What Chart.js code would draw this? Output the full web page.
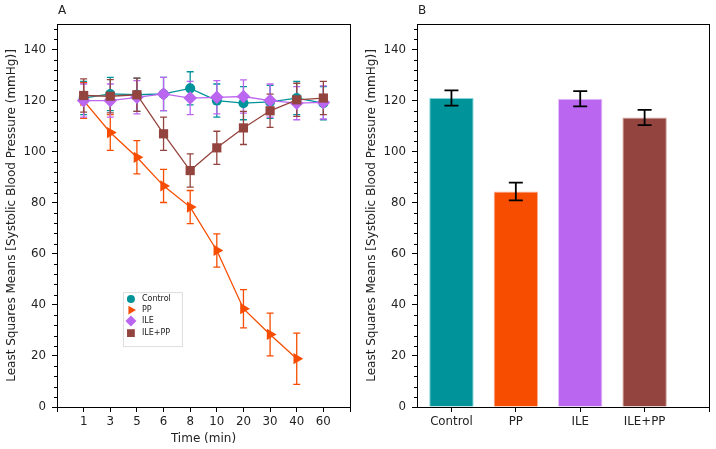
<!DOCTYPE html>
<html>
<head>
<meta charset="utf-8">
<script src="https://cdn.jsdelivr.net/npm/chart.js@4.4.0/dist/chart.umd.min.js"></script>
<style>
  html, body { margin: 0; padding: 0; background: #fff; }
  #wrap { position: relative; width: 716px; height: 449px; }
  #chartA { position: absolute; left: 0; top: 0; width: 360px; height: 449px; }
  #chartB { position: absolute; left: 360px; top: 0; width: 356px; height: 449px; }
</style>
</head>
<body>
<div id="wrap">
  <canvas id="chartA" width="360" height="449"></canvas>
  <canvas id="chartB" width="356" height="449"></canvas>
</div>
<script>
/* ====== data ====== */
const timeLabels = ['1', '3', '5', '6', '8', '10', '20', '30', '40', '60'];
const yTicks = [0, 20, 40, 60, 80, 100, 120, 140];

const controlMeans = [121, 122.6, 122.3, 122.6, 124.8, 120, 119, 119.5, 121, 119];
const controlErr   = [6.5, 6.5, 6.5, 6.5, 6.5, 6.5, 6.5, 6.5, 6.5, 6.5];
const ppMeans      = [120, 107.5, 97.8, 86.6, 78.3, 61.3, 38.5, 28.4, 18.9];
const ppErr        = [7, 7, 6.5, 6.5, 6.5, 6.5, 7.5, 8.4, 10];
const ileMeans     = [120, 120, 121.3, 122.6, 121, 121.3, 121.6, 120, 119, 119.3];
const ileErr       = [6.5, 6.5, 6.5, 6.5, 6.5, 6.5, 6.5, 6.5, 6.5, 6.5];
const ilePpMeans   = [122, 121.7, 122.3, 107, 92.6, 101.5, 109.3, 116, 120.3, 121];
const ilePpErr     = [6.5, 6.5, 6.5, 6.5, 6.5, 6.5, 6.5, 6.5, 6.5, 6.5];

const groups   = ['Control', 'PP', 'ILE', 'ILE+PP'];
const barMeans = [121.0, 84.4, 120.7, 113.4];
const barErr   = [3.0, 3.5, 3.0, 3.0];

const FONT = "'DejaVu Sans', sans-serif";
const yTitle = 'Least Squares Means [Systolic Blood Pressure (mmHg)]';
const COLORS = { control: '#00939a', pp: '#f64d00', ile: '#bb66f0', ilepp: '#94443e' };

/* ====== plugins ====== */
// error bars, computed through the y scale
const errorBars = {
  id: 'errorBars',
  draw(chart, opts) {
    const ctx = chart.ctx, ys = chart.scales.y;
    chart.data.datasets.forEach((ds, i) => {
      if (!ds.errors) return;
      const meta = chart.getDatasetMeta(i);
      ctx.save();
      ctx.lineWidth = opts.width;
      meta.data.forEach((el, j) => {
        const v = ds.data[j].y, e = ds.errors[j];
        const yTop = ys.getPixelForValue(v + e), yBot = ys.getPixelForValue(v - e);
        ctx.strokeStyle = ds.errorColor || ds.borderColor;
        ctx.beginPath();
        ctx.moveTo(el.x, yTop); ctx.lineTo(el.x, yBot);
        ctx.moveTo(el.x - opts.cap, yTop); ctx.lineTo(el.x + opts.cap, yTop);
        ctx.moveTo(el.x - opts.cap, yBot); ctx.lineTo(el.x + opts.cap, yBot);
        ctx.stroke();
      });
      ctx.restore();
    });
  },
  beforeDatasetsDraw(chart, args, opts) { if (!opts.above) this.draw(chart, opts); },
  afterDatasetsDraw(chart, args, opts) { if (opts.above) this.draw(chart, opts); }
};

// frame, minor y ticks, panel letter
const frame = {
  id: 'frame',
  afterDraw(chart, args, opts) {
    const { ctx, chartArea: a } = chart, ys = chart.scales.y;
    ctx.save();
    ctx.strokeStyle = '#000';
    ctx.lineWidth = 1;
    ctx.strokeRect(a.left + 0.5, a.top + 0.5, a.right - a.left, a.bottom - a.top);
    ctx.beginPath();
    for (let v = 4; v <= 150; v += 4) {
      if (v % 20 === 0) continue;
      const y = Math.round(ys.getPixelForValue(v)) + 0.5;
      ctx.moveTo(a.left - 3, y); ctx.lineTo(a.left, y);
    }
    ctx.stroke();
    ctx.fillStyle = '#222';
    ctx.font = '12px ' + FONT;
    ctx.textBaseline = 'middle';
    ctx.fillText(opts.letter, a.left + 1, 11);
    ctx.restore();
  }
};

// small legend inside panel A
const innerLegend = {
  id: 'innerLegend',
  afterDraw(chart, args, opts) {
    if (!opts.show) return;
    const { ctx, chartArea: a } = chart;
    const x0 = a.left + 0.225 * (a.right - a.left), y0 = a.top + 0.70 * (a.bottom - a.top);
    ctx.save();
    ctx.fillStyle = '#fff';
    ctx.strokeStyle = '#ddd';
    ctx.lineWidth = 1;
    ctx.fillRect(x0, y0, 59, 54);
    ctx.strokeRect(x0 + 0.5, y0 + 0.5, 59, 54);
    const rows = [7, 18, 29, 41];
    chart.data.datasets.forEach((ds, i) => {
      const y = y0 + rows[i];
      ctx.fillStyle = ds.backgroundColor;
      Chart.helpers.drawPoint(ctx, {
        pointStyle: ds.pointStyle, rotation: ds.pointRotation || 0,
        radius: ds.legendRadius, borderWidth: 0
      }, x0 + 8, y);
      ctx.fillStyle = '#222';
      ctx.font = '8px ' + FONT;
      ctx.textBaseline = 'middle';
      ctx.fillText(ds.label, x0 + 19, y);
    });
    ctx.restore();
  }
};

function yAxis() {
  return {
    min: 0, max: 150,
    afterBuildTicks: s => { s.ticks = yTicks.map(v => ({ value: v })); },
    afterFit: s => { s.width = 57; },
    ticks: { color: '#222', font: { family: FONT, size: 11.8 }, padding: 6 },
    grid: { drawOnChartArea: false, tickLength: 5, color: '#000' },
    border: { color: '#000', width: 1 },
    title: { display: true, text: yTitle, color: '#222', font: { family: FONT, size: 12 }, padding: { top: 5, bottom: 0 } }
  };
}

function lineSet(label, means, errs, color, style, radius, legendRadius, rot, order) {
  return {
    label: label,
    data: means.map((v, i) => ({ x: i + 1, y: v })),
    errors: errs,
    borderColor: color,
    backgroundColor: color,
    borderWidth: 1.3,
    pointStyle: style,
    pointRotation: rot,
    pointRadius: radius,
    pointBorderWidth: 0,
    legendRadius: legendRadius,
    tension: 0,
    order: order
  };
}

/* ====== panel A ====== */
new Chart(document.getElementById('chartA'), {
  type: 'line',
  data: {
    datasets: [
      lineSet('Control', controlMeans, controlErr, COLORS.control, 'circle', 5, 4, 0, 4),
      lineSet('PP', ppMeans, ppErr, COLORS.pp, 'triangle', 6.5, 5, 90, 3),
      lineSet('ILE', ileMeans, ileErr, COLORS.ile, 'rectRot', 6.8, 5.5, 0, 2),
      lineSet('ILE+PP', ilePpMeans, ilePpErr, COLORS.ilepp, 'rect', 6.5, 5.5, 0, 1)
    ]
  },
  options: {
    responsive: false,
    animation: false,
    layout: { padding: { top: 24, right: 10, bottom: 0, left: 0 } },
    plugins: {
      legend: { display: false },
      tooltip: { enabled: false },
      errorBars: { cap: 3.5, width: 1.3, above: false },
      frame: { letter: 'A' },
      innerLegend: { show: true }
    },
    scales: {
      x: {
        type: 'linear', min: 0, max: timeLabels.length + 1,
        afterBuildTicks: s => {
          s.ticks = [];
          for (let i = 0; i <= timeLabels.length + 1; i++) s.ticks.push({ value: i });
        },
        afterFit: s => { s.height = 42; },
        ticks: { callback: v => timeLabels[v - 1] || '', autoSkip: false, maxRotation: 0, color: '#222', font: { family: FONT, size: 11.8 }, padding: 3 },
        grid: { drawOnChartArea: false, tickLength: 5, color: '#000' },
        border: { color: '#000', width: 1 },
        title: { display: true, text: 'Time (min)', color: '#222', font: { family: FONT, size: 12 }, padding: { top: 0, bottom: 3 } }
      },
      y: yAxis()
    }
  },
  plugins: [errorBars, frame, innerLegend]
});

/* ====== panel B ====== */
new Chart(document.getElementById('chartB'), {
  type: 'bar',
  data: {
    datasets: [{
      data: barMeans.map((v, i) => ({ x: i, y: v })),
      errors: barErr,
      errorColor: '#000',
      backgroundColor: [COLORS.control, COLORS.pp, COLORS.ile, COLORS.ilepp],
      borderColor: ['#7fd6da', '#fbb08f', '#e2c0f8', '#d8a8a4'],
      borderWidth: 1,
      categoryPercentage: 1,
      barPercentage: 0.69
    }]
  },
  options: {
    responsive: false,
    animation: false,
    layout: { padding: { top: 24, right: 7, bottom: 0, left: 0 } },
    plugins: {
      legend: { display: false },
      tooltip: { enabled: false },
      errorBars: { cap: 7, width: 1.8, above: true },
      frame: { letter: 'B' },
      innerLegend: { show: false }
    },
    scales: {
      x: {
        type: 'linear', min: -0.535, max: 4, offset: false,
        afterBuildTicks: s => { s.ticks = [0, 1, 2, 3, 4].map(v => ({ value: v })); },
        afterFit: s => { s.height = 42; },
        ticks: { callback: v => groups[v] || '', autoSkip: false, maxRotation: 0, color: '#222', font: { family: FONT, size: 11.8 }, padding: 3 },
        grid: { drawOnChartArea: false, offset: false, tickLength: 5, color: '#000' },
        border: { color: '#000', width: 1 }
      },
      y: yAxis()
    }
  },
  plugins: [errorBars, frame, innerLegend]
});
</script>
</body>
</html>
